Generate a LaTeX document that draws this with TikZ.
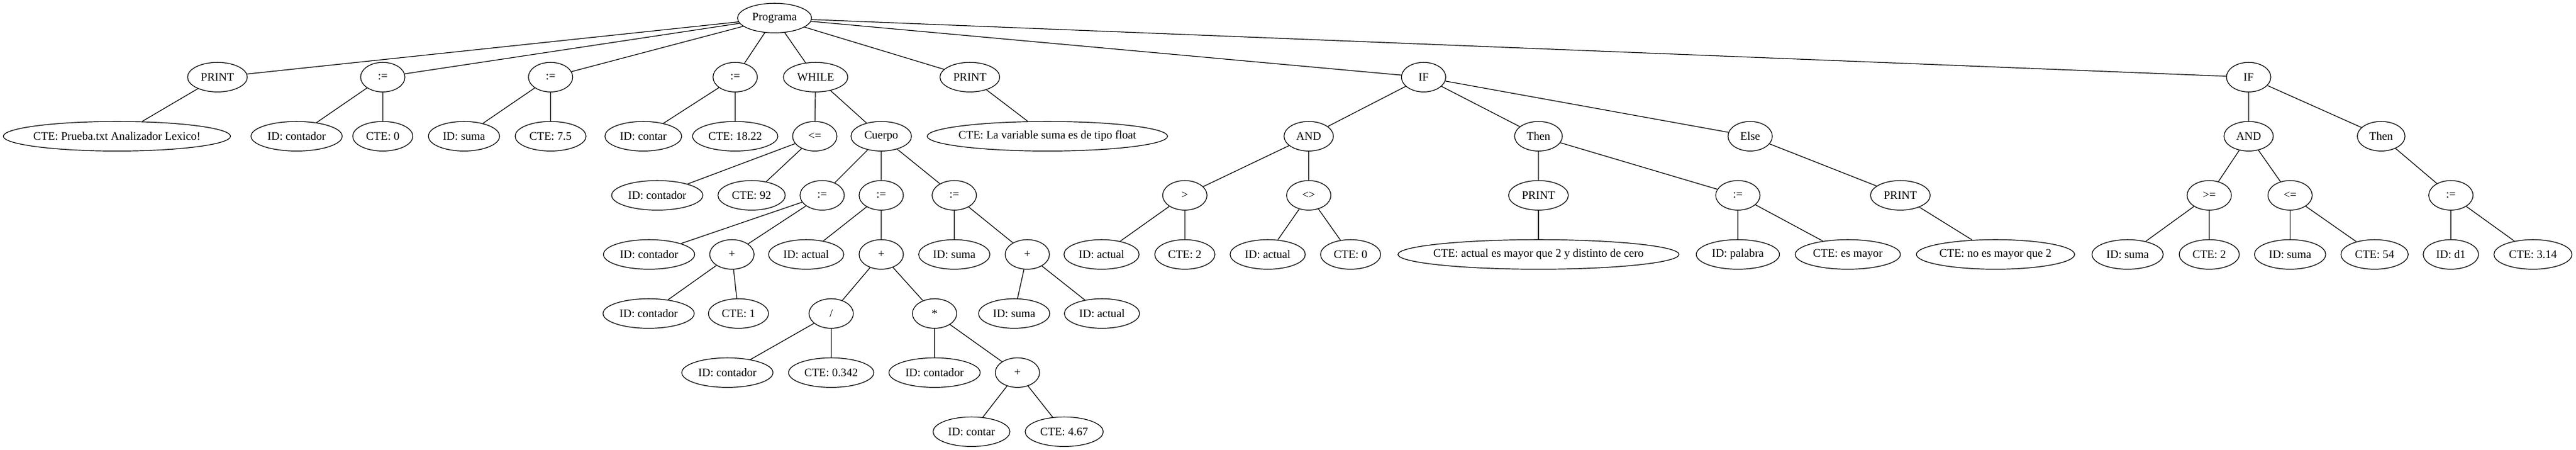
\documentclass[tikz,border=0pt]{standalone}
\usepackage{fontspec}
\setmainfont{Liberation Serif}
\usetikzlibrary{shapes.geometric}

\tikzset{
  nodo/.style={draw, ellipse, line width=0.9pt, minimum width=54pt, minimum height=36pt,
    inner xsep=7.85pt, inner ysep=2pt, font=\fontsize{14pt}{16pt}\selectfont,
    execute at begin node={\setbox0=\hbox\bgroup},
    execute at end node={\egroup\hbox to .884\wd0{\hss\box0\hss}}},
  arista/.style={line width=0.9pt}
}

\begin{document}
\begin{tikzpicture}[x=1pt, y=1pt]
  \useasboundingbox (0,22) rectangle (3139.5,-526.25);
  % nivel 0
  \node[nodo] (prog) at (944,0) {Programa};
  % nivel 1
  \node[nodo] (print1) at (265,-72) {PRINT};
  \node[nodo] (asig1) at (466.5,-72) {:=};
  \node[nodo] (asig2) at (671,-72) {:=};
  \node[nodo] (asig3) at (896,-72) {:=};
  \node[nodo] (while) at (994,-72) {WHILE};
  \node[nodo] (print2) at (1182,-72) {PRINT};
  \node[nodo] (if1) at (1735,-72) {IF};
  \node[nodo] (if2) at (2740.5,-72) {IF};
  % nivel 2
  \node[nodo] (cte1) at (142.5,-144) {CTE: Prueba.txt Analizador Lexico!};
  \node[nodo] (id1) at (361.5,-144) {ID: contador};
  \node[nodo] (cte2) at (466.5,-144) {CTE: 0};
  \node[nodo] (id2) at (565.5,-144) {ID: suma};
  \node[nodo] (cte3) at (671,-144) {CTE: 7.5};
  \node[nodo] (id3) at (784,-144) {ID: contar};
  \node[nodo] (cte4) at (896,-144) {CTE: 18.22};
  \node[nodo] (menig1) at (993,-144) {<=};
  \node[nodo] (cuerpo) at (1074,-144) {Cuerpo};
  \node[nodo] (cte5) at (1276.5,-144) {CTE: La variable suma es de tipo float};
  \node[nodo] (and1) at (1595,-144) {AND};
  \node[nodo] (then1) at (1875,-144) {Then};
  \node[nodo] (else1) at (2133,-144) {Else};
  \node[nodo] (and2) at (2740.5,-144) {AND};
  \node[nodo] (then2) at (2902,-144) {Then};
  % nivel 3
  \node[nodo] (id4) at (801,-216) {ID: contador};
  \node[nodo] (cte6) at (916,-216) {CTE: 92};
  \node[nodo] (asig4) at (1002,-216) {:=};
  \node[nodo] (asig5) at (1074,-216) {:=};
  \node[nodo] (asig6) at (1163,-216) {:=};
  \node[nodo] (mayor1) at (1444,-216) {>};
  \node[nodo] (dist1) at (1595,-216) {<>};
  \node[nodo] (print3) at (1875,-216) {PRINT};
  \node[nodo] (asig7) at (2118,-216) {:=};
  \node[nodo] (print4) at (2316,-216) {PRINT};
  \node[nodo] (mayig1) at (2692.5,-216) {>=};
  \node[nodo] (menig2) at (2791,-216) {<=};
  \node[nodo] (asig8) at (2987,-216) {:=};
  % nivel 4
  \node[nodo] (id5) at (791,-288) {ID: contador};
  \node[nodo] (suma1) at (892,-288) {+};
  \node[nodo] (id6) at (982.5,-288) {ID: actual};
  \node[nodo] (suma2) at (1074,-288) {+};
  \node[nodo] (id7) at (1163,-288) {ID: suma};
  \node[nodo] (suma3) at (1252,-288) {+};
  \node[nodo] (id8) at (1342.5,-288) {ID: actual};
  \node[nodo] (cte7) at (1444,-288) {CTE: 2};
  \node[nodo] (id9) at (1545,-288) {ID: actual};
  \node[nodo] (cte8) at (1646,-288) {CTE: 0};
  \node[nodo] (cte9) at (1875,-288) {CTE: actual es mayor que 2 y distinto de cero};
  \node[nodo] (id10) at (2118,-288) {ID: palabra};
  \node[nodo] (cte10) at (2252,-288) {CTE: es mayor};
  \node[nodo] (cte11) at (2432,-288) {CTE: no es mayor que 2};
  \node[nodo] (id11) at (2593,-288) {ID: suma};
  \node[nodo] (cte12) at (2692.5,-288) {CTE: 2};
  \node[nodo] (id12) at (2791,-288) {ID: suma};
  \node[nodo] (cte13) at (2894,-288) {CTE: 54};
  \node[nodo] (id13) at (2987,-288) {ID: d1};
  \node[nodo] (cte14) at (3087,-288) {CTE: 3.14};
  % nivel 5
  \node[nodo] (id14) at (790.5,-360) {ID: contador};
  \node[nodo] (cte15) at (900,-360) {CTE: 1};
  \node[nodo] (div1) at (1013,-360) {/};
  \node[nodo] (mult1) at (1139,-360) {*};
  \node[nodo] (id15) at (1236,-360) {ID: suma};
  \node[nodo] (id16) at (1343,-360) {ID: actual};
  % nivel 6
  \node[nodo] (id17) at (886.5,-432) {ID: contador};
  \node[nodo] (cte16) at (1013,-432) {CTE: 0.342};
  \node[nodo] (id18) at (1139,-432) {ID: contador};
  \node[nodo] (suma4) at (1240,-432) {+};
  % nivel 7
  \node[nodo] (id19) at (1184,-504) {ID: contar};
  \node[nodo] (cte17) at (1297,-504) {CTE: 4.67};
  % aristas
  \draw[arista] (prog) -- (print1) (prog) -- (asig1) (prog) -- (asig2) (prog) -- (asig3)
    (prog) -- (while) (prog) -- (print2) (prog) -- (if1) (prog) -- (if2);
  \draw[arista] (print1) -- (cte1);
  \draw[arista] (asig1) -- (id1) (asig1) -- (cte2);
  \draw[arista] (asig2) -- (id2) (asig2) -- (cte3);
  \draw[arista] (asig3) -- (id3) (asig3) -- (cte4);
  \draw[arista] (while) -- (menig1) (while) -- (cuerpo);
  \draw[arista] (print2) -- (cte5);
  \draw[arista] (if1) -- (and1) (if1) -- (then1) (if1) -- (else1);
  \draw[arista] (if2) -- (and2) (if2) -- (then2);
  \draw[arista] (menig1) -- (id4) (menig1) -- (cte6);
  \draw[arista] (cuerpo) -- (asig4) (cuerpo) -- (asig5) (cuerpo) -- (asig6);
  \draw[arista] (and1) -- (mayor1) (and1) -- (dist1);
  \draw[arista] (then1) -- (print3) (then1) -- (asig7);
  \draw[arista] (else1) -- (print4);
  \draw[arista] (and2) -- (mayig1) (and2) -- (menig2);
  \draw[arista] (then2) -- (asig8);
  \draw[arista] (asig4) -- (id5) (asig4) -- (suma1);
  \draw[arista] (asig5) -- (id6) (asig5) -- (suma2);
  \draw[arista] (asig6) -- (id7) (asig6) -- (suma3);
  \draw[arista] (mayor1) -- (id8) (mayor1) -- (cte7);
  \draw[arista] (dist1) -- (id9) (dist1) -- (cte8);
  \draw[arista] (print3) -- (cte9);
  \draw[arista] (asig7) -- (id10) (asig7) -- (cte10);
  \draw[arista] (print4) -- (cte11);
  \draw[arista] (mayig1) -- (id11) (mayig1) -- (cte12);
  \draw[arista] (menig2) -- (id12) (menig2) -- (cte13);
  \draw[arista] (asig8) -- (id13) (asig8) -- (cte14);
  \draw[arista] (suma1) -- (id14) (suma1) -- (cte15);
  \draw[arista] (suma2) -- (div1) (suma2) -- (mult1);
  \draw[arista] (suma3) -- (id15) (suma3) -- (id16);
  \draw[arista] (div1) -- (id17) (div1) -- (cte16);
  \draw[arista] (mult1) -- (id18) (mult1) -- (suma4);
  \draw[arista] (suma4) -- (id19) (suma4) -- (cte17);
\end{tikzpicture}
\end{document}
